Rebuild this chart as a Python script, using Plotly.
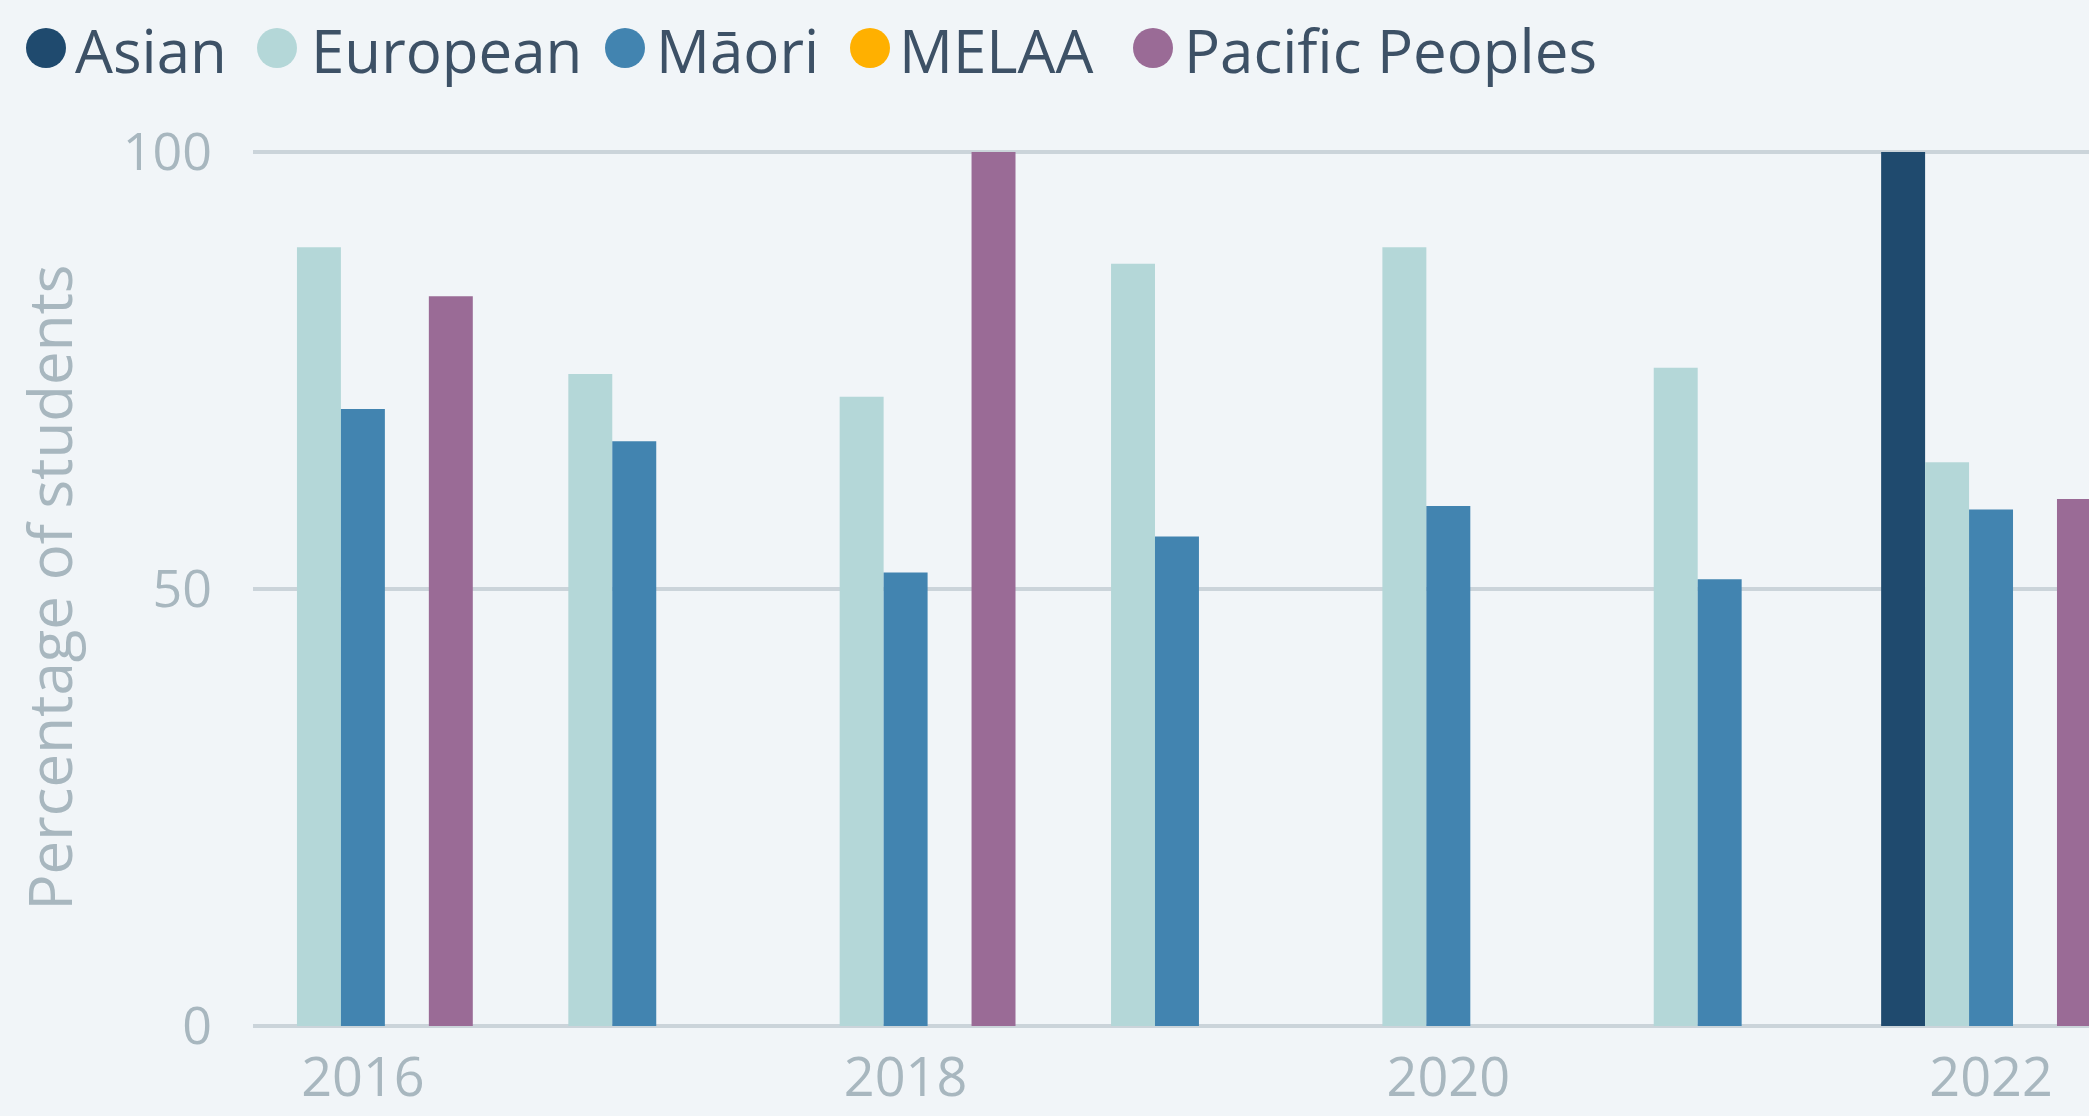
import plotly.graph_objects as go

# ---- data ----
years = [2016, 2017, 2018, 2019, 2020, 2021, 2022]
groups = ["Asian", "European", "Māori", "MELAA", "Pacific Peoples"]
asian = [None, None, None, None, None, None, 100]
european = [89.1, 74.6, 72.0, 87.2, 89.1, 75.3, 64.5]
maori = [70.6, 66.9, 51.9, 56.0, 59.5, 51.1, 59.1]
melaa = [None, None, None, None, None, None, None]
pacific = [83.5, None, 100, None, None, None, 60.3]
colors = ["#1f4a6e", "#b4d7d8", "#4284b0", "#ffb000", "#9a6b96"]
x_ticks = [2016, 2018, 2020, 2022]
y_ticks = [0, 50, 100]

series = [asian, european, maori, melaa, pacific]

fig = go.Figure()
for name, vals, col in zip(groups, series, colors):
    fig.add_trace(go.Bar(x=years, y=vals, name=name, marker_color=col,
                         marker_line_width=0, showlegend=False))

BG = "#f1f5f8"
TICK = "#a8b7bf"
GRID = "#cbd4da"
TXT = "#3d5166"
FONT = "Open Sans"

W, H = 2089, 1116
ML, MT, MB = 253, 149, 90
PH = H - MT - MB
PW = W - ML


def px_x(p):
    return (p - ML) / PW


def px_y(p):
    return 1 + (MT - p) / PH


# legend layout (pixel positions of each item: marker centre, label start)
leg_marker_cx = [46, 277, 625, 870, 1153]
leg_text_x = [73, 309, 654, 897, 1182]
leg_cy = 48
leg_r = 20

for name, col, cx, tx in zip(groups, colors, leg_marker_cx, leg_text_x):
    fig.add_shape(type="circle", xref="paper", yref="paper",
                  x0=px_x(cx - leg_r), x1=px_x(cx + leg_r),
                  y0=px_y(leg_cy + leg_r), y1=px_y(leg_cy - leg_r),
                  fillcolor=col, line_width=0, layer="above")
    fig.add_annotation(x=px_x(tx), y=px_y(leg_cy + 2), xref="paper",
                       yref="paper", xanchor="left", yanchor="middle",
                       showarrow=False, text=name,
                       font=dict(family=FONT, size=60, color=TXT))

fig.update_layout(
    width=W, height=H,
    margin=dict(l=ML, r=0, t=MT, b=MB, pad=0),
    paper_bgcolor=BG, plot_bgcolor=BG,
    barmode="group", bargap=0.19, bargroupgap=0,
    showlegend=False,
)

fig.update_xaxes(range=[2015.595, 2022.361], tickvals=x_ticks,
                 ticktext=[str(t) for t in x_ticks], showgrid=False,
                 zeroline=False, showline=False, ticks="",
                 tickfont=dict(family=FONT, size=54, color=TICK),
                 ticklabelstandoff=15)
fig.update_yaxes(range=[0, 100.34], tickvals=y_ticks, showgrid=True,
                 gridcolor=GRID, gridwidth=4, zeroline=True,
                 zerolinecolor=GRID, zerolinewidth=4, showline=False,
                 ticks="", tickfont=dict(family=FONT, size=52, color=TICK),
                 ticklabelstandoff=40,
                 title=dict(text="Percentage of students", standoff=30,
                            font=dict(family=FONT, size=60, color=TICK)))

fig.write_html("out.html", config={"displayModeBar": False},
               post_script="document.body.style.margin='0';document.body.style.overflow='hidden';")
